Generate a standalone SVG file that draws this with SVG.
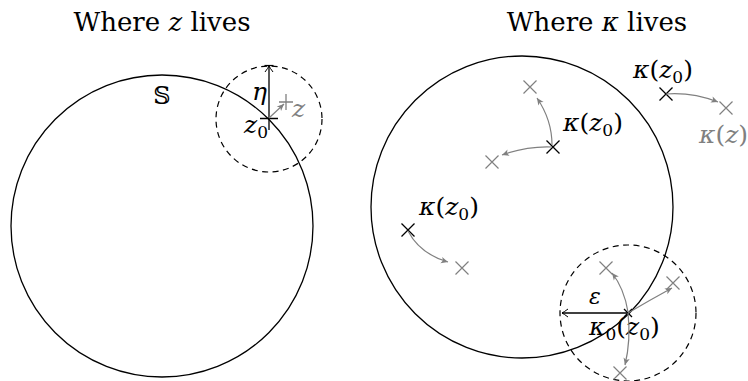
<svg xmlns="http://www.w3.org/2000/svg" width="748" height="381" viewBox="0 0 748 381">
<style>
text { font-family: "DejaVu Serif", "Liberation Serif", serif; fill: #000; }
.t { font-size: 26px; }
.l { font-size: 25px; }
.i { font-style: italic; }
.sub { font-size: 17px; }
.g { fill: #808080; }
.circ { fill: none; stroke: #000; stroke-width: 1.3; }
.dash { fill: none; stroke: #000; stroke-width: 1.2; stroke-dasharray: 6 4.5; }
.blk { fill: none; stroke: #000; stroke-width: 1.3; }
.gry { fill: none; stroke: #808080; stroke-width: 1.3; }
.garr { fill: none; stroke: #808080; stroke-width: 1.2; marker-end: url(#ga); }
</style>
<defs>
<path id="xm" d="M-6.5,-6.5L6.5,6.5M-6.5,6.5L6.5,-6.5"/>
<marker id="ga" viewBox="-8 -5 10 10" markerWidth="10" markerHeight="10" refX="0" refY="0" orient="auto" markerUnits="userSpaceOnUse">
<path d="M0,0 L-7,-3.2 L-5.2,0 L-7,3.2 Z" fill="#808080"/>
</marker>
<marker id="ba" viewBox="-10 -6 12 12" markerWidth="12" markerHeight="12" refX="0" refY="0" orient="auto" markerUnits="userSpaceOnUse">
<path d="M-6,-4 Q-2,-1 0,0 Q-2,1 -6,4" fill="none" stroke="#000" stroke-width="1"/>
</marker>
<marker id="bb" viewBox="-10 -6 12 12" markerWidth="12" markerHeight="12" refX="0" refY="0" orient="auto" markerUnits="userSpaceOnUse">
<path d="M-6,-4 Q-2,-1 0,0 Q-2,1 -6,4" fill="none" stroke="#000" stroke-width="1"/>
<path d="M0.5,-4.5 L0.5,4.5" stroke="#000" stroke-width="1.2"/>
</marker>
</defs>

<g id="titles">
<text class="t" x="162" y="31" text-anchor="middle">Where <tspan class="i">z</tspan> lives</text>
<text class="t" x="597" y="31" text-anchor="middle">Where <tspan class="i">κ</tspan> lives</text>
</g>

<g id="left-domain">
<circle class="circ" cx="162" cy="226" r="151"/>
<text x="162" y="104" text-anchor="middle" style="font-size:24px">𝕊</text>
</g>
<g id="left-ball">
<circle class="dash" cx="269" cy="119" r="53"/>
</g>
<g id="z0-node">
<path class="blk" d="M260,118.5H278M269,118.5V130"/>
<text class="l" x="244" y="133"><tspan class="i">z</tspan><tspan class="sub" dy="5">0</tspan></text>
</g>
<g id="z-node">
<path class="gry" d="M279,102H293M286,94V110"/>
<text class="l g i" x="292" y="117">z</text>
</g>
<g id="eta-label">
<text class="l i" x="252" y="100">η</text>
</g>

<g id="right-domain">
<circle class="circ" cx="522" cy="207" r="151"/>
</g>
<g id="right-ball">
<circle class="dash" cx="628" cy="313" r="68"/>
</g>

<g id="k-center">
<use href="#xm" x="553" y="147" stroke="#000" stroke-width="1.3"/>
<text class="l" x="563" y="131"><tspan class="i">κ</tspan>(<tspan class="i">z</tspan><tspan class="sub" dy="5">0</tspan><tspan dy="-5">)</tspan></text>
<use href="#xm" x="530" y="87" stroke="#808080" stroke-width="1.2"/>
<use href="#xm" x="492" y="162" stroke="#808080" stroke-width="1.2"/>
</g>
<g id="k-left">
<use href="#xm" x="408" y="230" stroke="#000" stroke-width="1.3"/>
<text class="l" x="419" y="215"><tspan class="i">κ</tspan>(<tspan class="i">z</tspan><tspan class="sub" dy="5">0</tspan><tspan dy="-5">)</tspan></text>
<use href="#xm" x="462" y="268" stroke="#808080" stroke-width="1.2"/>
</g>
<g id="k-outside">
<use href="#xm" x="666" y="94" stroke="#000" stroke-width="1.3"/>
<text class="l" x="633" y="78"><tspan class="i">κ</tspan>(<tspan class="i">z</tspan><tspan class="sub" dy="5">0</tspan><tspan dy="-5">)</tspan></text>
<use href="#xm" x="726" y="108" stroke="#808080" stroke-width="1.2"/>
<text class="l g" x="699" y="143"><tspan class="i">κ</tspan>(<tspan class="i">z</tspan>)</text>
</g>
<g id="k0-boundary">
<path class="blk" d="M624,309L632,317M624,317L632,309"/>
<text class="l i" x="589" y="304" style="font-size:22px">ε</text>
<text class="l" x="589" y="335"><tspan class="i">κ</tspan><tspan class="sub" dy="5">0</tspan><tspan dy="-5">(</tspan><tspan class="i">z</tspan><tspan class="sub" dy="5">0</tspan><tspan dy="-5">)</tspan></text>
<use href="#xm" x="606" y="268" stroke="#808080" stroke-width="1.2"/>
<use href="#xm" x="673" y="283" stroke="#808080" stroke-width="1.2"/>
<use href="#xm" x="620" y="373" stroke="#808080" stroke-width="1.2"/>
</g>

<g id="connectors">
<path class="blk" d="M269,118V66" marker-end="url(#bb)"/>
<path class="blk" d="M628,313H562" marker-end="url(#ba)"/>
<path class="garr" d="M269,118L284,104"/>
<path class="garr" d="M552,145Q552,120 537,98"/>
<path class="garr" d="M552,147Q527,146 502,155"/>
<path class="garr" d="M408,231Q420,254 448,262"/>
<path class="garr" d="M666,94Q692,92 718,102"/>
<path class="garr" d="M628,312Q624,288 612,273"/>
<path class="garr" d="M628,313Q650,300 672,288"/>
<path class="garr" d="M628,313Q631,340 625,365"/>
</g>
</svg>
